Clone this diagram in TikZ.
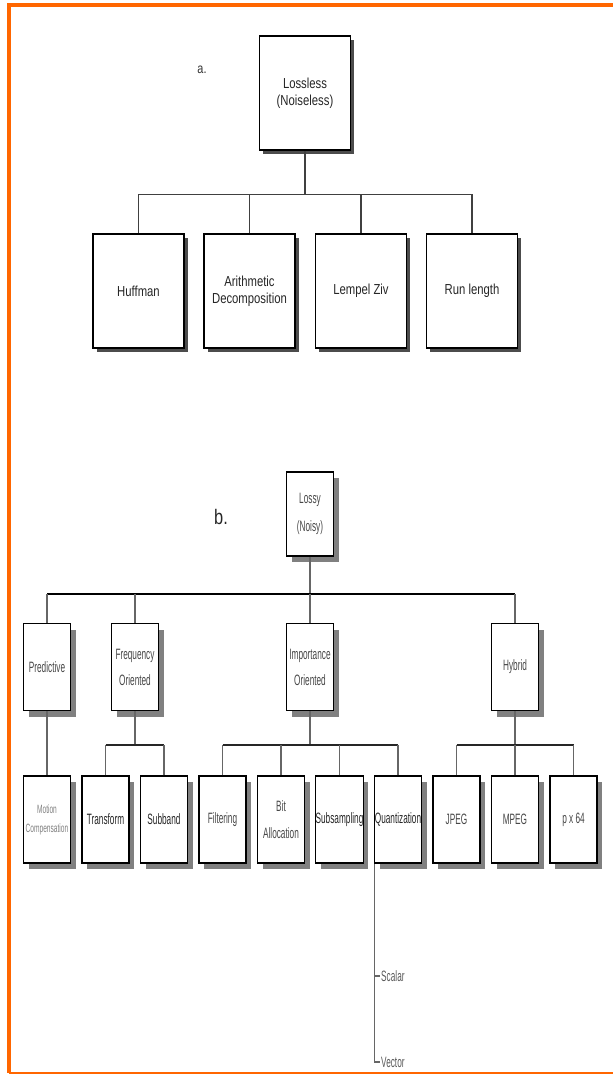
\documentclass[tikz,border=0pt]{standalone}
\usepackage{fontspec}
\setmainfont{Liberation Sans}
\newfontfamily\narrowa[FakeStretch=0.78]{Liberation Sans}
\newfontfamily\narrowb[FakeStretch=0.55]{Liberation Sans}
\usetikzlibrary{shadows}
\definecolor{frameorange}{HTML}{FF6600}

\tikzset{
	boxa/.style={draw, line width=1.1pt, fill=white, minimum width=91pt, minimum height=114pt, inner sep=0pt, align=center,
		font=\narrowa\fontsize{14.5}{17.5}\selectfont, text=black!85,
		drop shadow={shadow xshift=3.5pt, shadow yshift=-3.5pt, fill=black!70, opacity=1}},
	boxb/.style={draw, line width=1.4pt, fill=white, minimum width=47pt, minimum height=87pt, inner sep=0pt, align=center,
		font=\narrowb\fontsize{15}{26}\selectfont, text=black!72,
		drop shadow={shadow xshift=5pt, shadow yshift=-6pt, fill=black!50, opacity=1}},
	linka/.style={draw=black!75, line width=1.2pt},
	linkb/.style={draw=black!60, line width=1.1pt},
	busline/.style={draw=black, line width=2.2pt},
	subbus/.style={draw=black!85, line width=1.6pt},
	frame/.style={draw=frameorange, line width=3.6pt}
}

\begin{document}
\begin{tikzpicture}[x=1pt, y=-1pt]
	\useasboundingbox (0,0) rectangle (613,1074);
	\draw[frame] (613,4.8) -- (9,4.8) -- (9,1073);
	\draw[frame, line width=2pt] (9,1073) -- (613,1073);

	% a. lossless
	\node[font=\narrowa\fontsize{14}{16}\selectfont, text=black!80] (labela) at (202,70) {a.};
	\node[boxa] (lossless) at (305,93) {Lossless\\(Noiseless)};
	\node[boxa] (huffman) at (138.5,291) {Huffman};
	\node[boxa] (arith) at (249.5,291) {Arithmetic\\Decomposition};
	\node[boxa] (lempel) at (361,291) {Lempel Ziv};
	\node[boxa] (runlen) at (472,291) {Run length};

	\draw[linka] (lossless.south) -- ++(0,44) coordinate (busa);
	\draw[linka] (huffman.north) |- (busa) -| (runlen.north);
	\draw[linka] (arith.north) -- (arith.north |- busa);
	\draw[linka] (lempel.north) -- (lempel.north |- busa);

	% b. lossy
	\node[font=\narrowa\fontsize{21}{24}\selectfont, text=black!85] (labelb) at (221,517) {b.};
	\node[boxb, minimum height=84pt, font=\narrowb\fontsize{15}{28}\selectfont] (lossy) at (310,514) {Lossy\\(Noisy)};

	\node[boxb] (pred) at (47,667) {Predictive};
	\node[boxb] (freq) at (135,667) {Frequency\\Oriented};
	\node[boxb] (imp) at (310,667) {Importance\\Oriented};
	\node[boxb] (hyb) at (515,667) {Hybrid};

	\node[boxb, font=\narrowb\fontsize{12}{19}\selectfont, text=black!50] (motion) at (47,819.5) {Motion\\Compensation};
	\node[boxb, text=black!85] (transf) at (105.5,819.5) {Transform};
	\node[boxb, text=black!85] (subband) at (164,819.5) {Subband};
	\node[boxb] (filter) at (222.5,819.5) {Filtering};
	\node[boxb, font=\narrowb\fontsize{15}{27}\selectfont] (bitalloc) at (281,819.5) {Bit\\Allocation};
	\node[boxb, text=black!85] (subsamp) at (339.5,819.5) {Subsampling};
	\node[boxb, text=black!85] (quant) at (398,819.5) {Quantization};
	\node[boxb] (jpeg) at (456.5,819.5) {JPEG};
	\node[boxb] (mpeg) at (515,819.5) {MPEG};
	\node[boxb] (px) at (573.5,819.5) {p x 64};

	\draw[linkb] (lossy.south) -- ++(0,37) coordinate (busb);
	\draw[busline] (pred.north |- busb) -- (hyb.north |- busb);
	\foreach \n in {pred,freq,imp,hyb}
		\draw[linkb] (\n.north) -- (\n.north |- busb);

	\draw[linkb] (pred.south) -- (motion.north);

	\draw[linkb] (freq.south) -- ++(0,34) coordinate (busf);
	\draw[subbus] (transf.north |- busf) -- (subband.north |- busf);
	\foreach \n in {transf,subband}
		\draw[linkb] (\n.north) -- (\n.north |- busf);

	\draw[linkb] (imp.south) -- ++(0,34) coordinate (busi);
	\draw[subbus] (filter.north |- busi) -- (quant.north |- busi);
	\foreach \n in {filter,bitalloc,subsamp,quant}
		\draw[linkb] (\n.north) -- (\n.north |- busi);

	\draw[linkb] (hyb.south) -- ++(0,34) coordinate (bush);
	\draw[subbus] (jpeg.north |- bush) -- (px.north |- bush);
	\foreach \n in {jpeg,mpeg,px}
		\draw[linkb] (\n.north) -- (\n.north |- bush);

	% quantization leaves
	\node[anchor=west, inner sep=0pt, font=\narrowb\fontsize{15}{16}\selectfont, text=black!65] (scalar) at (381,976) {Scalar};
	\node[anchor=west, inner sep=0pt, font=\narrowb\fontsize{15}{16}\selectfont, text=black!65] (vector) at (381,1062) {Vector};
	\draw[linkb] ([xshift=1pt]quant.south west) |- ([xshift=-1pt]vector.west);
	\draw[linkb, line width=1.6pt] ([xshift=1pt]quant.south west |- scalar.west) -- ([xshift=-1pt]scalar.west);
\end{tikzpicture}
\end{document}
